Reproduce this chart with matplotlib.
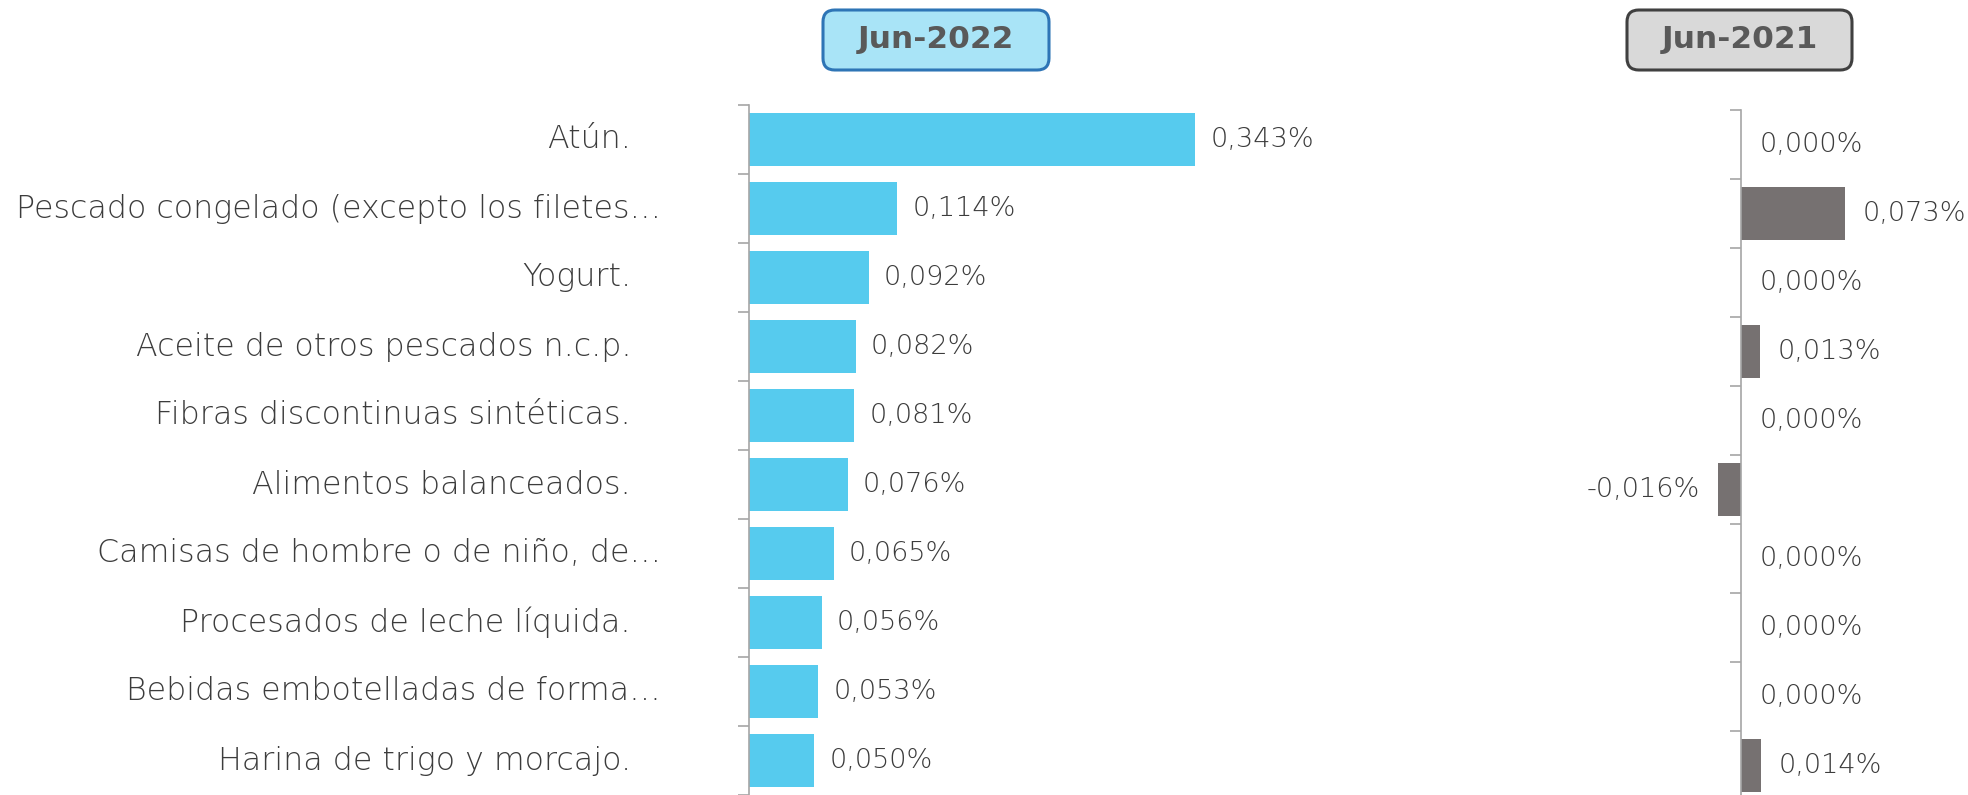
import matplotlib
matplotlib.use("Agg")
import matplotlib.pyplot as plt
from matplotlib.patches import FancyBboxPatch
from matplotlib.transforms import blended_transform_factory

categories = [
    "Atún.",
    "Pescado congelado (excepto los filetes…",
    "Yogurt.",
    "Aceite de otros pescados n.c.p.",
    "Fibras discontinuas sintéticas.",
    "Alimentos balanceados.",
    "Camisas de hombre o de niño, de…",
    "Procesados de leche líquida.",
    "Bebidas embotelladas de forma…",
    "Harina de trigo y morcajo.",
]
jun2022 = [0.343, 0.114, 0.092, 0.082, 0.081, 0.076, 0.065, 0.056, 0.053, 0.050]
jun2021 = [0.000, 0.073, 0.000, 0.013, 0.000, -0.016, 0.000, 0.000, 0.000, 0.014]
titles = ["Jun-2022", "Jun-2021"]

W, H = 1968, 795
fig = plt.figure(figsize=(W / 100, H / 100), dpi=100)

TXT = "#595959"
LTXT = "#3c3c3c"
AX = "#A6A6A6"
BLUE = "#56CBEE"
GREY = "#767171"
FONT = "DejaVu Sans"
LW = "light"

def px_axes(x0, x1, ytop, ybot):
    return fig.add_axes([x0 / W, 1 - ybot / H, (x1 - x0) / W, (ybot - ytop) / H])

def fmt(v):
    return f"{v:.3f}%".replace(".", ",")

def style(ax):
    for s in ["top", "right", "bottom"]:
        ax.spines[s].set_visible(False)
    ax.spines["left"].set_color(AX)
    ax.spines["left"].set_linewidth(1.2)
    ax.spines["left"].set_position(("data", 0))
    ax.set_xticks([])
    ax.set_yticks([])
    n = len(categories)
    ax.set_yticks([i - 0.5 for i in range(n + 1)], minor=True)
    ax.tick_params(axis="y", which="minor", length=8, color=AX, width=1.2, direction="out")
    ax.set_ylim(n - 0.5, -0.5)

# Left panel
ax1 = px_axes(749, 1269, 105, 795)
y = list(range(len(categories)))
ax1.barh(y, jun2022, height=0.78, color=BLUE, edgecolor="none")
ax1.set_xlim(0, 0.40)
style(ax1)
for i, v in enumerate(jun2022):
    ax1.annotate(fmt(v), (v, i), xytext=(11, 0), textcoords="offset points",
                 ha="left", va="center", fontsize=19.5, color=LTXT, family=FONT, fontweight=LW)
tr = blended_transform_factory(ax1.transAxes, ax1.transData)
for i, c in enumerate(categories):
    xend = 661 if c.endswith("…") else 631
    ax1.text((xend - 749) / 520, i, c, transform=tr, ha="right", va="center",
             fontsize=22.8, color=LTXT, family=FONT, fontweight=LW)

# Right panel
ax2 = px_axes(1656, 1968, 110, 800)
ax2.barh(y, jun2021, height=0.78, color=GREY, edgecolor="none")
ax2.set_xlim(-0.06, 0.16)
style(ax2)
for i, v in enumerate(jun2021):
    if v < 0:
        ax2.annotate(fmt(v), (v, i), xytext=(-13, 0), textcoords="offset points",
                     ha="right", va="center", fontsize=19.5, color=LTXT, family=FONT, fontweight=LW)
    else:
        ax2.annotate(fmt(v), (v, i), xytext=(13, 0), textcoords="offset points",
                     ha="left", va="center", fontsize=19.5, color=LTXT, family=FONT, fontweight=LW)

# Header boxes
def header(x0, x1, text, fc, ec):
    bx = FancyBboxPatch((x0 / W, 1 - 70 / H), (x1 - x0) / W, 60 / H,
                        boxstyle="round,pad=0,rounding_size=0.006",
                        transform=fig.transFigure, facecolor=fc, edgecolor=ec,
                        linewidth=2.2, mutation_aspect=W / H)
    fig.patches.append(bx)
    fig.text((x0 + x1) / 2 / W, 1 - 40 / H, text, ha="center", va="center",
             fontsize=22.5, fontweight="bold", color=TXT, family=FONT)

header(823, 1049, titles[0], "#A9E4F7", "#2E75B6")
header(1627, 1852, titles[1], "#D9D9D9", "#404040")

fig.savefig("out.png", dpi=100)
